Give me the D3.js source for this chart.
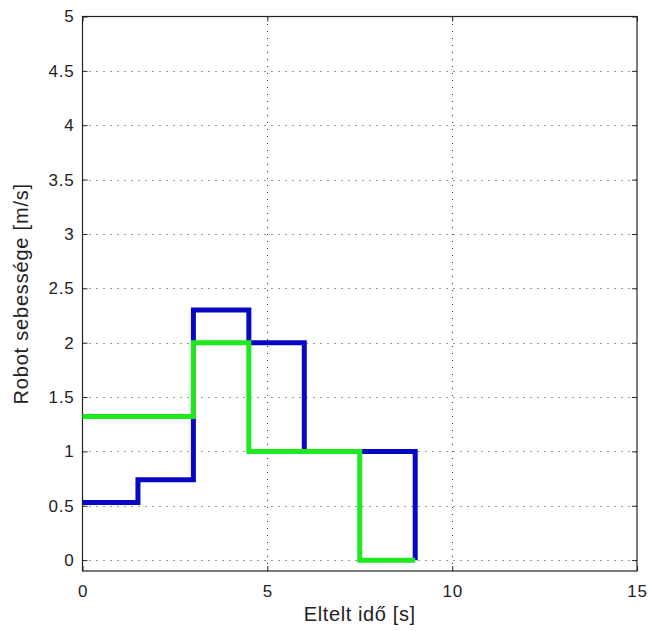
<!DOCTYPE html>
<html>
<head>
<meta charset="utf-8">
<script src="https://cdn.jsdelivr.net/npm/d3@7"></script>
<style>
  html, body { margin: 0; padding: 0; background: #fff; }
  svg { display: block; font-family: "Liberation Sans", Arial, sans-serif; }
</style>
</head>
<body>
<svg id="chart" width="651" height="631"></svg>
<script>
// Robot speed profiles (step functions): change times [s] and speed values [m/s]
const blueTimes  = [0, 1.5, 3, 4.5, 6, 9];
const blueSpeeds = [0.53, 0.74, 2.3, 2.0, 1.0, 0];
const greenTimes  = [0, 3, 4.5, 7.5, 9];
const greenSpeeds = [1.32, 2.0, 1.0, 0, 0];

const xTicks = [0, 5, 10, 15];
const yTicks = [0, 0.5, 1, 1.5, 2, 2.5, 3, 3.5, 4, 4.5, 5];
const xLabel = "Eltelt idő [s]";
const yLabel = "Robot sebessége [m/s]";

const svg = d3.select("#chart");
const plotLeft = 82.5, plotRight = 637, plotTop = 16.5, plotBottom = 571;

const x = d3.scaleLinear().domain([0, 15]).range([plotLeft, plotRight]);
const y = d3.scaleLinear().domain([-0.1, 5]).range([plotBottom, plotTop]);

// dotted grid
const grid = svg.append("g").attr("stroke", "#333").attr("stroke-width", 1)
  .attr("stroke-dasharray", "1,6");
grid.selectAll("line.gx").data(xTicks.filter(t => t > 0 && t < 15)).join("line")
  .attr("x1", d => Math.round(x(d)) + 0.5).attr("x2", d => Math.round(x(d)) + 0.5)
  .attr("y1", plotBottom).attr("y2", plotTop);
grid.selectAll("line.gy").data(yTicks.filter(t => t < 5)).join("line")
  .attr("x1", plotLeft).attr("x2", plotRight)
  .attr("y1", d => Math.round(y(d)) + 0.5).attr("y2", d => Math.round(y(d)) + 0.5);

// axes with inward ticks on all four sides
const tickLen = 5;
const fmt = d => String(d);
const axB = svg.append("g").attr("transform", `translate(0,${plotBottom})`)
  .call(d3.axisBottom(x).tickValues(xTicks).tickSizeInner(-tickLen).tickSizeOuter(0).tickPadding(14).tickFormat(fmt));
const axT = svg.append("g").attr("transform", `translate(0,${plotTop})`)
  .call(d3.axisTop(x).tickValues(xTicks).tickSizeInner(-tickLen).tickSizeOuter(0).tickFormat(""));
const axL = svg.append("g").attr("transform", `translate(${plotLeft},0)`)
  .call(d3.axisLeft(y).tickValues(yTicks).tickSizeInner(-tickLen).tickSizeOuter(0).tickPadding(8).tickFormat(fmt));
const axR = svg.append("g").attr("transform", `translate(${plotRight},0)`)
  .call(d3.axisRight(y).tickValues(yTicks).tickSizeInner(-tickLen).tickSizeOuter(0).tickFormat(""));
[axB, axT, axL, axR].forEach(a => {
  a.select(".domain").remove();
  a.selectAll("line").attr("stroke", "#222");
  a.selectAll("text").attr("font-size", 17).attr("fill", "#222")
    .attr("letter-spacing", 0.8)
    .attr("font-family", "Liberation Sans, Arial, sans-serif");
});

// frame
svg.append("rect").attr("x", plotLeft).attr("y", plotTop)
  .attr("width", plotRight - plotLeft).attr("height", plotBottom - plotTop)
  .attr("fill", "none").attr("stroke", "#222").attr("stroke-width", 1.2);

// step lines
const line = d3.line().x(d => x(d[0])).y(d => y(d[1])).curve(d3.curveStepAfter);
svg.append("path").datum(d3.zip(blueTimes, blueSpeeds))
  .attr("d", line).attr("fill", "none").attr("stroke", "#0808c4")
  .attr("stroke-width", 5).attr("stroke-linejoin", "miter");
svg.append("path").datum(d3.zip(greenTimes, greenSpeeds))
  .attr("d", line).attr("fill", "none").attr("stroke", "#1ee81e")
  .attr("stroke-width", 5).attr("stroke-linejoin", "miter");

// axis labels
svg.append("text").attr("x", (plotLeft + plotRight) / 2).attr("y", 621)
  .attr("text-anchor", "middle").attr("font-size", 20).attr("fill", "#222")
  .attr("letter-spacing", 0.6)
  .text(xLabel);
svg.append("text").attr("transform", `translate(28,${(plotTop + plotBottom) / 2}) rotate(-90)`)
  .attr("text-anchor", "middle").attr("font-size", 20).attr("fill", "#222")
  .attr("letter-spacing", 0.8)
  .text(yLabel);
</script>
</body>
</html>
